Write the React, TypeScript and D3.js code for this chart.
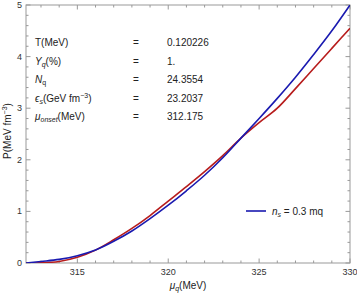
import React from "react";
import * as d3 from "d3";

// chemical potential grid (MeV)
const mu = [312.175, 313, 314, 315, 316, 317, 318, 319, 320, 321, 322, 323, 324, 325, 326, 327, 328, 329, 330];
// pressure, MeV fm^-3
const pressureBlue = [0, 0.03, 0.07, 0.14, 0.25, 0.42, 0.62, 0.86, 1.12, 1.4, 1.7, 2.04, 2.42, 2.8, 3.19, 3.6, 4.04, 4.5, 5.0];
const pressureRed = [0, 0.005, 0.03, 0.11, 0.25, 0.45, 0.67, 0.92, 1.2, 1.48, 1.77, 2.08, 2.42, 2.72, 3.0, 3.38, 3.77, 4.16, 4.55];

const xTicks = [315, 320, 325, 330];
const yTicks = [0, 1, 2, 3, 4, 5];

const infoLabels = ["T(MeV)", "Yq(%)", "Nq", "es", "muonset"];
const infoValues = ["0.120226", "1.", "24.3554", "23.2037", "312.175"];

const W = 357;
const H = 294;
const M = { left: 26, right: 7, top: 5, bottom: 31 };

const RED = "#b71c1c";
const BLUE = "#1a1ab0";
const FRAME = "#999";

const renderLabel = (key: string) => {
  switch (key) {
    case "Yq(%)":
      return (
        <>
          <tspan fontStyle="italic">Y</tspan>
          <tspan fontStyle="italic" fontSize={7} dy={2}>q</tspan>
          <tspan dy={-2}>(%)</tspan>
        </>
      );
    case "Nq":
      return (
        <>
          <tspan fontStyle="italic">N</tspan>
          <tspan fontSize={7} dy={2}>q</tspan>
        </>
      );
    case "es":
      return (
        <>
          <tspan fontStyle="italic">ϵ</tspan>
          <tspan fontStyle="italic" fontSize={7} dy={2}>s</tspan>
          <tspan dy={-2}>(GeV fm</tspan>
          <tspan fontSize={7} dy={-4}>−3</tspan>
          <tspan dy={4}>)</tspan>
        </>
      );
    case "muonset":
      return (
        <>
          <tspan fontStyle="italic">μ</tspan>
          <tspan fontStyle="italic" fontSize={7} dy={2}>onset</tspan>
          <tspan dy={-2}>(MeV)</tspan>
        </>
      );
    default:
      return key;
  }
};

export default function App() {
  const x = d3.scaleLinear().domain([312.175, 330]).range([M.left, W - M.right]);
  const y = d3.scaleLinear().domain([0, 5]).range([H - M.bottom, M.top]);

  const line = d3
    .line<number>()
    .x((_, i) => x(mu[i]))
    .y((d) => y(d))
    .curve(d3.curveMonotoneX);

  const x0 = x.range()[0];
  const x1 = x.range()[1];
  const y0 = y.range()[0];
  const y1 = y.range()[1];

  const xMinor = d3.range(313, 330.01, 1).filter((v) => !xTicks.includes(v));
  const yMinor = d3.range(0, 5.01, 0.2).map((v) => +v.toFixed(1)).filter((v) => !yTicks.includes(v));

  return (
    <svg width={W} height={H} style={{ position: "absolute", left: 0, top: 0 }} fontFamily="Liberation Sans, Arial, sans-serif">
      <rect width={W} height={H} fill="white" />
      <defs>
        <clipPath id="plot">
          <rect x={x0} y={y1} width={x1 - x0} height={y0 - y1} />
        </clipPath>
      </defs>

      {/* frame */}
      <rect x={x0} y={y1} width={x1 - x0} height={y0 - y1} fill="none" stroke={FRAME} strokeWidth={1} />

      {/* x ticks, bottom and top */}
      {xTicks.map((t) => (
        <g key={"xt" + t}>
          <line x1={x(t)} x2={x(t)} y1={y0} y2={y0 - 4.5} stroke={FRAME} />
          <line x1={x(t)} x2={x(t)} y1={y1} y2={y1 + 4.5} stroke={FRAME} />
          <text x={x(t)} y={y0 + 12} fontSize={9} textAnchor="middle" fill="#333">{t}</text>
        </g>
      ))}
      {xMinor.map((t) => (
        <g key={"xm" + t}>
          <line x1={x(t)} x2={x(t)} y1={y0} y2={y0 - 2.5} stroke={FRAME} />
          <line x1={x(t)} x2={x(t)} y1={y1} y2={y1 + 2.5} stroke={FRAME} />
        </g>
      ))}

      {/* y ticks, left and right */}
      {yTicks.map((t) => (
        <g key={"yt" + t}>
          <line x1={x0} x2={x0 + 4.5} y1={y(t)} y2={y(t)} stroke={FRAME} />
          <line x1={x1} x2={x1 - 4.5} y1={y(t)} y2={y(t)} stroke={FRAME} />
          <text x={x0 - 4} y={y(t) + 3} fontSize={9} textAnchor="end" fill="#333">{t}</text>
        </g>
      ))}
      {yMinor.map((t) => (
        <g key={"ym" + t}>
          <line x1={x0} x2={x0 + 2.5} y1={y(t)} y2={y(t)} stroke={FRAME} />
          <line x1={x1} x2={x1 - 2.5} y1={y(t)} y2={y(t)} stroke={FRAME} />
        </g>
      ))}

      {/* curves */}
      <g clipPath="url(#plot)">
        <path d={line(pressureRed) ?? ""} fill="none" stroke={RED} strokeWidth={1.6} />
        <path d={line(pressureBlue) ?? ""} fill="none" stroke={BLUE} strokeWidth={1.6} />
      </g>

      {/* parameter table */}
      {infoLabels.map((lab, i) => {
        const yy = 46 + i * 18.6;
        return (
          <g key={lab} fontSize={10} fill="#222">
            <text x={35} y={yy}>{renderLabel(lab)}</text>
            <text x={133} y={yy}>=</text>
            <text x={167} y={yy}>{infoValues[i]}</text>
          </g>
        );
      })}

      {/* legend */}
      <line x1={246} x2={266} y1={211} y2={211} stroke={BLUE} strokeWidth={1.6} />
      <text x={272} y={214.5} fontSize={10} fill="#222">
        <tspan fontStyle="italic">n</tspan>
        <tspan fontStyle="italic" fontSize={7} dy={2}>s</tspan>
        <tspan dy={-2}> = 0.3 mq</tspan>
      </text>

      {/* axis labels */}
      <text x={188} y={289} fontSize={10} textAnchor="middle" fill="#222">
        <tspan fontStyle="italic">μ</tspan>
        <tspan fontStyle="italic" fontSize={7} dy={2}>q</tspan>
        <tspan dy={-2}>(MeV)</tspan>
      </text>
      <text transform={`translate(11, 131) rotate(-90)`} fontSize={10} textAnchor="middle" fill="#222">
        P(MeV fm<tspan fontSize={7} dy={-4}>−3</tspan><tspan dy={4}>)</tspan>
      </text>
    </svg>
  );
}
